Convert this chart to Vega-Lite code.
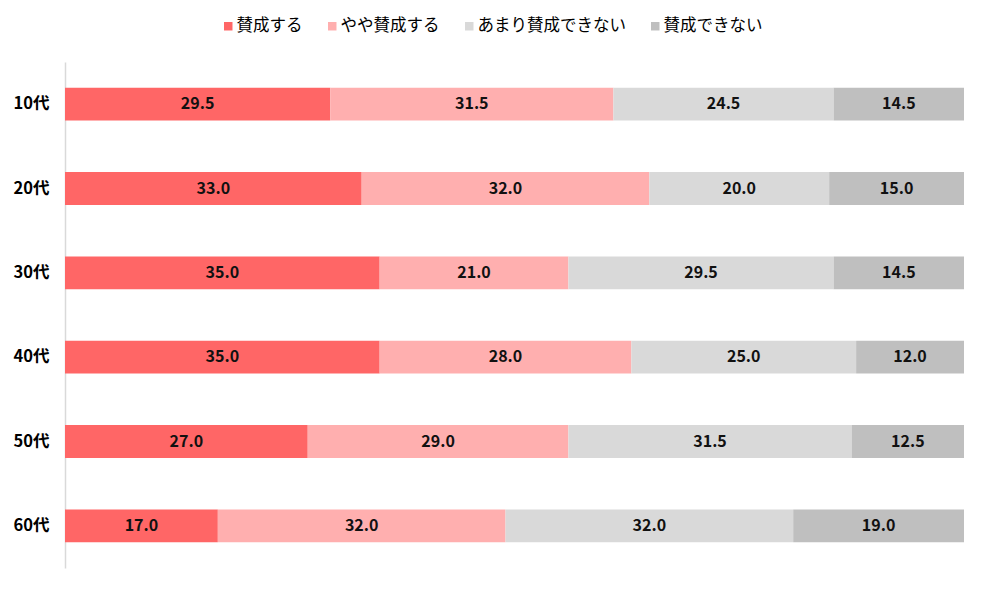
{
  "$schema": "https://vega.github.io/schema/vega-lite/v6.json",
  "width": 899,
  "height": 506,
  "autosize": {"type": "none"},
  "padding": {"left": 65, "top": 62, "right": 21, "bottom": 21},
  "background": "white",
  "config": {"view": {"stroke": null}, "font": "Noto Sans CJK JP"},
  "data": {"values": [
    {"age": "10代", "cat": "賛成する", "k": 1, "value": 29.5},
    {"age": "10代", "cat": "やや賛成する", "k": 2, "value": 31.5},
    {"age": "10代", "cat": "あまり賛成できない", "k": 3, "value": 24.5},
    {"age": "10代", "cat": "賛成できない", "k": 4, "value": 14.5},
    {"age": "20代", "cat": "賛成する", "k": 1, "value": 33.0},
    {"age": "20代", "cat": "やや賛成する", "k": 2, "value": 32.0},
    {"age": "20代", "cat": "あまり賛成できない", "k": 3, "value": 20.0},
    {"age": "20代", "cat": "賛成できない", "k": 4, "value": 15.0},
    {"age": "30代", "cat": "賛成する", "k": 1, "value": 35.0},
    {"age": "30代", "cat": "やや賛成する", "k": 2, "value": 21.0},
    {"age": "30代", "cat": "あまり賛成できない", "k": 3, "value": 29.5},
    {"age": "30代", "cat": "賛成できない", "k": 4, "value": 14.5},
    {"age": "40代", "cat": "賛成する", "k": 1, "value": 35.0},
    {"age": "40代", "cat": "やや賛成する", "k": 2, "value": 28.0},
    {"age": "40代", "cat": "あまり賛成できない", "k": 3, "value": 25.0},
    {"age": "40代", "cat": "賛成できない", "k": 4, "value": 12.0},
    {"age": "50代", "cat": "賛成する", "k": 1, "value": 27.0},
    {"age": "50代", "cat": "やや賛成する", "k": 2, "value": 29.0},
    {"age": "50代", "cat": "あまり賛成できない", "k": 3, "value": 31.5},
    {"age": "50代", "cat": "賛成できない", "k": 4, "value": 12.5},
    {"age": "60代", "cat": "賛成する", "k": 1, "value": 17.0},
    {"age": "60代", "cat": "やや賛成する", "k": 2, "value": 32.0},
    {"age": "60代", "cat": "あまり賛成できない", "k": 3, "value": 32.0},
    {"age": "60代", "cat": "賛成できない", "k": 4, "value": 19.0}
  ]},
  "encoding": {
    "y": {
      "field": "age", "type": "nominal", "sort": null, "title": null,
      "scale": {"paddingInner": 0.61, "paddingOuter": 0.305},
      "axis": {
        "domainColor": "#D9D9D9", "domainWidth": 1.5, "ticks": false,
        "labelPadding": 16, "labelFontSize": 16.5, "labelFontWeight": "bold",
        "labelColor": "#000000", "grid": false
      }
    }
  },
  "layer": [
    {
      "mark": {"type": "bar"},
      "encoding": {
        "x": {"field": "value", "type": "quantitative", "stack": "zero", "scale": {"domain": [0, 100]}, "axis": null},
        "color": {
          "field": "cat", "type": "nominal",
          "scale": {"domain": ["賛成する", "やや賛成する", "あまり賛成できない", "賛成できない"], "range": ["#FF6666", "#FFAFAF", "#D9D9D9", "#BFBFBF"]},
          "legend": {
            "title": null, "orient": "none", "direction": "horizontal", "columns": 4,
            "legendX": 155, "legendY": -44, "symbolType": "square", "symbolSize": 72,
            "symbolStrokeWidth": 0, "labelFontSize": 16.5, "labelFontWeight": "normal", "labelColor": "#000000",
            "columnPadding": 21, "gridAlign": "none", "labelOffset": 0
          }
        },
        "order": {"field": "k", "type": "quantitative"}
      }
    },
    {
      "mark": {"type": "text", "fontSize": 16, "fontWeight": "bold", "color": "#111111"},
      "encoding": {
        "x": {"field": "value", "type": "quantitative", "stack": "zero", "bandPosition": 0.5},
        "text": {"field": "value", "type": "quantitative", "format": ".1f"},
        "order": {"field": "k", "type": "quantitative"},
        "detail": {"field": "cat"}
      }
    }
  ]
}
